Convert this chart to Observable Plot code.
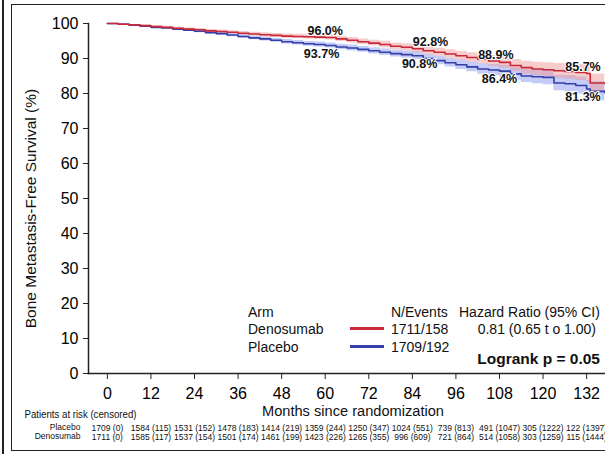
<!DOCTYPE html>
<html><head><meta charset="utf-8">
<script src="https://cdn.jsdelivr.net/npm/d3@7"></script>
<script src="https://cdn.jsdelivr.net/npm/@observablehq/plot@0.6"></script>
<style>
body{margin:0;background:#fff;}
#wrap{position:relative;width:605px;height:454px;overflow:hidden;font-family:"Liberation Sans",Arial,sans-serif;}
.b1{position:absolute;left:2px;top:0;width:2px;height:454px;background:#222;}
.b2{position:absolute;left:11px;top:4px;width:640px;height:445px;border:1.5px solid #222;}
.lg{position:absolute;font-size:14px;line-height:16px;color:#111;white-space:nowrap;}
.sw{position:absolute;height:3px;}
</style></head><body><div id="wrap"><div class="b1"></div><div class="b2"></div><div id="legend"></div></div>
<script>
// ---- data ----
const months = [0,3,6,9,12,15,18,21,24,27,30,33,36,39,42,45,48,51,54,57,60,63,66,69,72,75,78,81,84,87,90,93,96,99,102,105,108,111,114,117,120,123,126,129,132,133,137];
const denosumab = [100,99.8,99.6,99.4,99.1,98.9,98.6,98.4,98.2,97.9,97.7,97.5,97.2,97.0,96.8,96.6,96.4,96.3,96.2,96.1,96.0,95.6,95.2,94.8,94.4,94.0,93.5,93.2,92.8,92.2,91.8,91.3,90.8,90.3,89.8,89.3,88.9,88.0,87.4,87.0,86.8,86.5,86.3,86.0,85.7,83.0,82.8];
const placebo = [100,99.8,99.5,99.2,98.9,98.7,98.4,98.1,97.8,97.4,97.1,96.7,96.3,95.9,95.6,95.2,94.8,94.5,94.2,94.0,93.7,93.3,93.0,92.6,92.2,91.8,91.4,91.1,90.8,90.0,89.4,88.8,88.2,87.6,87.0,86.7,86.4,85.6,85.0,84.8,84.6,83.0,82.8,82.3,81.3,80.6,80.2];
const ciHalf = [0,0.1,0.15,0.2,0.25,0.3,0.3,0.35,0.4,0.4,0.45,0.45,0.5,0.5,0.55,0.55,0.6,0.6,0.65,0.65,0.7,0.75,0.8,0.8,0.85,0.9,0.95,1.0,1.05,1.1,1.15,1.2,1.3,1.35,1.4,1.5,1.6,1.7,1.8,1.9,2.0,2.1,2.2,2.3,2.4,2.6,2.8];

const denoLabelMonths = [60,89,107,131];
const denoLabels = ["96.0%","92.8%","88.9%","85.7%"];
const denoLabelValues = [96.0,92.8,88.9,85.7];
const placLabelMonths = [59,86,108,131];
const placLabels = ["93.7%","90.8%","86.4%","81.3%"];
const placLabelValues = [93.7,90.8,86.4,81.3];

const xTicks = [0,12,24,36,48,60,72,84,96,108,120,132];
const yTicks = [0,10,20,30,40,50,60,70,80,90,100];
const riskPlacebo = ["1709 (0)","1584 (115)","1531 (152)","1478 (183)","1414 (219)","1359 (244)","1250 (347)","1024 (551)","739 (813)","491 (1047)","305 (1222)","122 (1397)"];
const riskDenosumab = ["1711 (0)","1585 (117)","1537 (154)","1501 (174)","1461 (199)","1423 (226)","1265 (355)","996 (609)","721 (864)","514 (1058)","303 (1259)","115 (1444)"];

const arms = ["Denosumab","Placebo"];
const nEvents = ["1711/158","1709/192"];
const hrText = "0.81 (0.65 t o 1.00)";
const logrank = "Logrank p = 0.05";
const yTitle = "Bone Metastasis-Free Survival (%)";
const xTitle = "Months since randomization";
const riskTitle = "Patients at risk (censored)";

const RED = "#c8283a", BLUE = "#3340a8";

const deno = months.map((t,i)=>({t, s:denosumab[i], lo:denosumab[i]-ciHalf[i], hi:denosumab[i]+ciHalf[i]}));
const plac = months.map((t,i)=>({t, s:placebo[i], lo:placebo[i]-ciHalf[i]*1.05, hi:placebo[i]+ciHalf[i]*1.05}));
const dl = denoLabelMonths.map((t,i)=>({t, v:denoLabelValues[i], s:denoLabels[i]}));
const pl = placLabelMonths.map((t,i)=>({t, v:placLabelValues[i], s:placLabels[i]}));

const chart = Plot.plot({
  width: 605, height: 454,
  marginLeft: 88, marginRight: 0, marginTop: 23, marginBottom: 81,
  style: {fontFamily: "'Liberation Sans',Arial,sans-serif", background: "transparent", overflow: "visible"},
  x: {domain: [-5.2, 137.2]},
  y: {domain: [0, 100]},
  marks: [
    Plot.areaY(plac, {x:"t", y1:"lo", y2:"hi", curve:"step-after", fill:"#8a9af0", fillOpacity:0.5}),
    Plot.areaY(deno, {x:"t", y1:"lo", y2:"hi", curve:"step-after", fill:"#f09a9a", fillOpacity:0.5}),
    Plot.lineY(plac, {x:"t", y:"s", curve:"step-after", stroke:BLUE, strokeWidth:1.6}),
    Plot.lineY(deno, {x:"t", y:"s", curve:"step-after", stroke:RED, strokeWidth:1.6}),
    Plot.frame({anchor:"left", stroke:"#222", strokeWidth:1.5}),
    Plot.frame({anchor:"bottom", stroke:"#222", strokeWidth:1.5}),
    Plot.axisY({ticks: yTicks, tickSize:5, tickPadding:5, fontSize:16, label:null, stroke:"#222"}),
    Plot.axisX({ticks: xTicks, tickSize:6, tickPadding:8, fontSize:16, label:null, stroke:"#222"}),
    Plot.text(dl, {x:"t", y:"v", text:"s", dy:-7, fontSize:12.5, fontWeight:"bold", fill:"#111", stroke:"white", strokeWidth:2}),
    Plot.text(pl, {x:"t", y:"v", text:"s", dy:8, fontSize:12.5, fontWeight:"bold", fill:"#111", stroke:"white", strokeWidth:2}),
    Plot.text([yTitle], {frameAnchor:"left", textAnchor:"middle", dx:-57, dy:10, rotate:-90, fontSize:15.5, fill:"#111"}),
    Plot.text([xTitle], {frameAnchor:"bottom", dx:6, dy:42, fontSize:15.5, fill:"#111"}),
    Plot.text([riskTitle], {frameAnchor:"bottom-left", dx:-64, dy:44, textAnchor:"start", fontSize:10, fill:"#111"}),
    Plot.text(["Placebo"], {frameAnchor:"bottom-left", dx:-8, dy:56, textAnchor:"end", fontSize:8.5, fill:"#111"}),
    Plot.text(["Denosumab"], {frameAnchor:"bottom-left", dx:-8, dy:65, textAnchor:"end", fontSize:8.5, fill:"#111"}),
    Plot.text(xTicks, {x:d=>d, frameAnchor:"bottom", dy:57, text:(d,i)=>riskPlacebo[i], fontSize:8.5, fill:"#111"}),
    Plot.text(xTicks, {x:d=>d, frameAnchor:"bottom", dy:66, text:(d,i)=>riskDenosumab[i], fontSize:8.5, fill:"#111"})
  ]
});
// condense the x-axis title and risk title like the reference
chart.querySelectorAll("text").forEach(t => {
  if (t.textContent === xTitle) { t.setAttribute("textLength", 182); t.setAttribute("lengthAdjust", "spacingAndGlyphs"); }
  if (t.textContent === riskTitle) { t.setAttribute("textLength", 112); t.setAttribute("lengthAdjust", "spacingAndGlyphs"); }
});
const wrap = document.getElementById("wrap");
chart.style.position = "absolute"; chart.style.left = "0"; chart.style.top = "0";
wrap.insertBefore(chart, wrap.firstChild);

// legend overlay
const lg = document.getElementById("legend");
function span(txt, left, cy, opts={}) {
  const s = document.createElement("div");
  s.className = "lg"; s.textContent = txt;
  s.style.top = (cy - 8) + "px";
  if (opts.right != null) { s.style.right = (605 - opts.right) + "px"; } else { s.style.left = left + "px"; }
  if (opts.bold) { s.style.fontWeight = "bold"; s.style.fontSize = "15.5px"; }
  lg.appendChild(s);
}
span("Arm", 248, 312);
span(arms[0], 248, 329);
span(arms[1], 248, 347);
span("N/Events", 391, 312);
span(nEvents[0], 391, 329);
span(nEvents[1], 391, 347);
span("Hazard Ratio (95% CI)", 459, 312);
span(hrText, 0, 329, {right:596});
span(logrank, 0, 359, {right:600, bold:true});
[[RED,328],[BLUE,346]].forEach(([c,y])=>{
  const d=document.createElement("div"); d.className="sw";
  d.style.left="350px"; d.style.width="34px"; d.style.top=(y-1.5)+"px"; d.style.background=c;
  lg.appendChild(d);
});
</script>
</body></html>
